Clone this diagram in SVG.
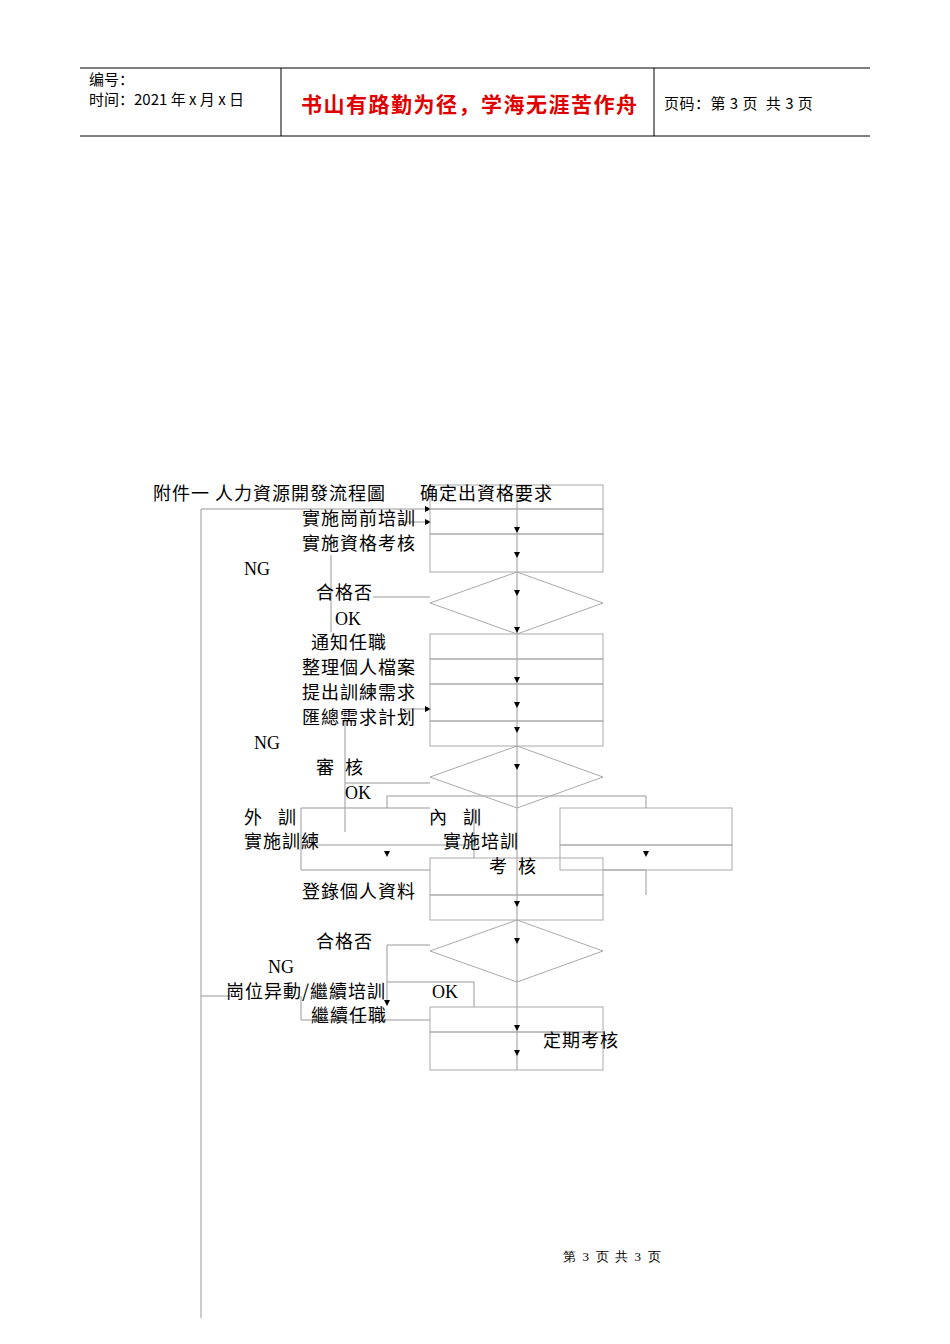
<svg xmlns="http://www.w3.org/2000/svg" width="950" height="1344" viewBox="0 0 950 1344">
<defs><marker id="a" markerWidth="6" markerHeight="6" refX="5" refY="3" orient="auto"><path d="M0,0L6,3L0,6z" fill="#000"/></marker></defs>
<style>
text{white-space:pre}
.t{font-family:"Noto Sans CJK SC","Noto Sans CJK TC",sans-serif;font-size:18px;letter-spacing:1px;fill:#000}
.s{font-family:"Liberation Serif",serif;font-size:18px;fill:#000}
.b{fill:none;stroke:#aaa;stroke-width:1}
.l{fill:none;stroke:#999;stroke-width:1}
.ar{stroke:none;fill:#000}
</style>
<rect width="950" height="1344" fill="#fff"/>
<g id="header">
<line x1="80" y1="68" x2="870" y2="68" stroke="#000"/>
<line x1="80" y1="136" x2="870" y2="136" stroke="#000"/>
<line x1="281" y1="68" x2="281" y2="136" stroke="#000"/>
<line x1="654" y1="68" x2="654" y2="136" stroke="#000"/>
<text x="89" y="85" class="t" style="font-size:15px;letter-spacing:0">编号：</text>
<text x="89" y="105" class="t" style="font-size:15px;letter-spacing:0">时间：2021 年 x 月 x 日</text>
<text x="301" y="112" class="t" style="font-size:21px;letter-spacing:1.5px;fill:#e00000;font-weight:bold">书山有路勤为径，学海无涯苦作舟</text>
<text x="664" y="109" class="t" style="font-size:15px;letter-spacing:0.5px">页码：第 3 页  共 3 页</text>
</g>
<g id="connectors">
<line class="l" x1="201" y1="509" x2="201" y2="1318"/>
<line class="l" x1="201" y1="509" x2="430" y2="509" marker-end="url(#a)"/>
<line class="l" x1="400" y1="522" x2="430" y2="522" marker-end="url(#a)"/>
<line class="l" x1="517" y1="485" x2="517" y2="1070"/>
<line class="l" x1="331" y1="555" x2="331" y2="632"/>
<line class="l" x1="373" y1="597" x2="430" y2="597"/>
<line class="l" x1="400" y1="709" x2="430" y2="709" marker-end="url(#a)"/>
<line class="l" x1="345" y1="709" x2="345" y2="832"/>
<line class="l" x1="345" y1="783" x2="430" y2="783"/>
<polyline class="l" points="387,808 387,796 646,796 646,808"/>
<polyline class="l" points="301,808 301,870 430,870"/>
<line class="l" x1="301" y1="808" x2="430" y2="808"/>
<line class="l" x1="301" y1="845" x2="474" y2="845"/>
<line class="l" x1="474" y1="808" x2="474" y2="858"/>
<polyline class="l" points="603,870 646,870 646,895"/>
<polyline class="l" points="430,945 387,945 387,1005"/>
<line class="l" x1="201" y1="996" x2="230" y2="996"/>
<polyline class="l" points="387,982 474,982 474,1007"/>
<polyline class="l" points="301,996 301,1020 430,1020"/>
<g class="ar">
<path d="M514,527h6l-3,6z"/><path d="M514,552h6l-3,6z"/><path d="M514,590h6l-3,6z"/><path d="M514,627h6l-3,6z"/>
<path d="M514,677h6l-3,6z"/><path d="M514,702h6l-3,6z"/><path d="M514,727h6l-3,6z"/><path d="M514,764h6l-3,6z"/>
<path d="M384,851h6l-3,6z"/><path d="M643,851h6l-3,6z"/><path d="M514,901h6l-3,6z"/><path d="M514,938h6l-3,6z"/>
<path d="M384,1000h6l-3,6z"/><path d="M514,1025h6l-3,6z"/><path d="M514,1050h6l-3,6z"/>
</g>
</g>
<g id="nodes">
<rect class="b" x="430" y="485" width="173" height="24"/>
<rect class="b" x="430" y="509" width="173" height="25"/>
<rect class="b" x="430" y="534" width="173" height="38"/>
<polygon class="b" points="517,572 603,603 517,634 430,603"/>
<rect class="b" x="430" y="634" width="173" height="25"/>
<rect class="b" x="430" y="659" width="173" height="25"/>
<rect class="b" x="430" y="684" width="173" height="37"/>
<rect class="b" x="430" y="721" width="173" height="25"/>
<polygon class="b" points="517,746 603,777 517,808 430,777"/>
<rect class="b" x="560" y="808" width="172" height="37"/>
<rect class="b" x="560" y="845" width="172" height="25"/>
<rect class="b" x="430" y="858" width="173" height="37"/>
<rect class="b" x="430" y="895" width="173" height="25"/>
<polygon class="b" points="517,920 603,951 517,982 430,951"/>
<rect class="b" x="430" y="1007" width="173" height="25"/>
<rect class="b" x="430" y="1032" width="173" height="38"/>
</g>
<g id="labels">
<text class="t" x="153" y="500">附件一 人力資源開發流程圖</text>
<text class="t" x="420" y="500">确定出資格要求</text>
<text class="t" x="302" y="525">實施崗前培訓</text>
<text class="t" x="302" y="550">實施資格考核</text>
<text class="s" x="244" y="575">NG</text>
<text class="t" x="316" y="599">合格否</text>
<text class="s" x="335" y="625">OK</text>
<text class="t" x="311" y="649">通知任職</text>
<text class="t" x="302" y="674">整理個人檔案</text>
<text class="t" x="302" y="699">提出訓練需求</text>
<text class="t" x="302" y="724">匯總需求計划</text>
<text class="s" x="254" y="749">NG</text>
<text class="t" x="316" y="774">審  核</text>
<text class="s" x="345" y="799">OK</text>
<text class="t" x="244" y="824">外   訓</text>
<text class="t" x="429" y="824">內   訓</text>
<text class="t" x="244" y="848">實施訓練</text>
<text class="t" x="443" y="848">實施培訓</text>
<text class="t" x="489" y="873">考  核</text>
<text class="t" x="302" y="898">登錄個人資料</text>
<text class="t" x="316" y="948">合格否</text>
<text class="s" x="268" y="973">NG</text>
<text class="t" x="226" y="998">崗位异動/繼續培訓</text>
<text class="s" x="432" y="998">OK</text>
<text class="t" x="311" y="1022">繼續任職</text>
<text class="t" x="543" y="1047">定期考核</text>
<text class="s" x="563" y="1261" style="font-size:13px">第  3  页  共  3  页</text>
</g>
</svg>
